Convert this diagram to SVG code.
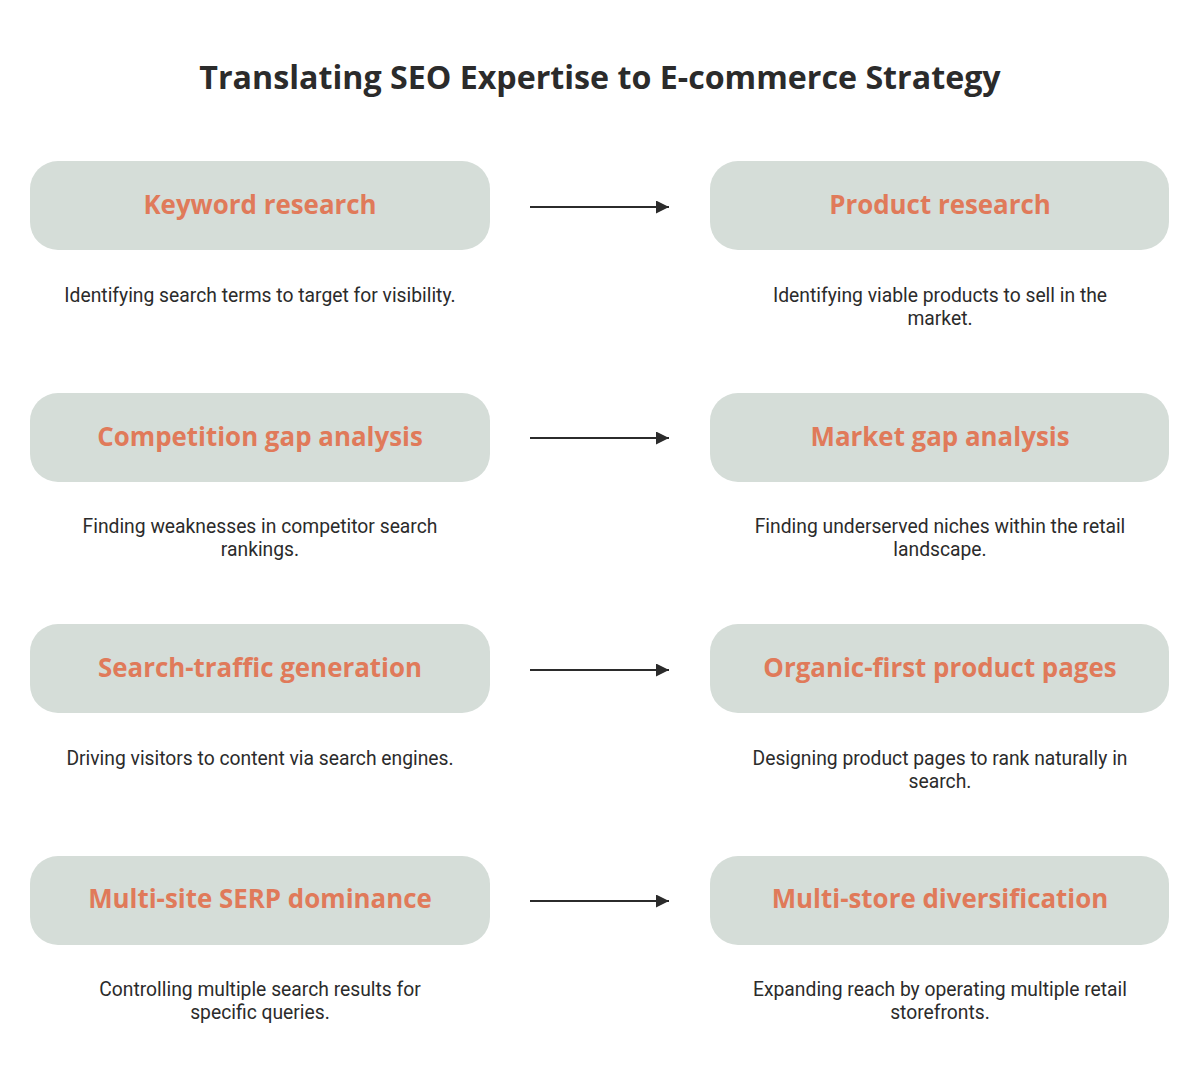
<svg xmlns="http://www.w3.org/2000/svg" width="1200" height="1085" viewBox="0 0 1200 1085">
<defs>
<style>
.title{font-family:"Open Sans","Noto Sans",sans-serif;font-weight:700;font-size:32.2px;fill:#2b2b2b;text-anchor:middle}
.box{fill:#d5ddd8}
.lbl{font-family:"Open Sans","Noto Sans",sans-serif;font-weight:700;font-size:25.9px;fill:#e07a5a;text-anchor:middle}
.desc{font-family:Roboto,"Liberation Sans",sans-serif;font-size:19.3px;fill:#2b2b2b;text-anchor:middle}
.conn{stroke:#2b2b2b;stroke-width:2;fill:none}
</style>
<marker id="ah" viewBox="0 0 10 10" refX="10" refY="5" markerWidth="6.5" markerHeight="6.5" markerUnits="strokeWidth" orient="auto">
<path d="M0,0 L10,5 L0,10 z" fill="#2b2b2b"/>
</marker>
</defs>
<rect width="1200" height="1085" fill="#ffffff"/>
<text class="title" x="600" y="89">Translating SEO Expertise to E-commerce Strategy</text>

<g id="n1"><rect class="box" x="30" y="161" width="460" height="89" rx="28"/><text class="lbl" x="260" y="214">Keyword research</text><text class="desc" x="260" y="302">Identifying search terms to target for visibility.</text></g>
<g id="n2"><rect class="box" x="710" y="161" width="459" height="89" rx="28"/><text class="lbl" x="940" y="214">Product research</text><text class="desc" x="940" y="302">Identifying viable products to sell in the</text><text class="desc" x="940" y="325">market.</text></g>

<g id="n3"><rect class="box" x="30" y="393" width="460" height="89" rx="28"/><text class="lbl" x="260" y="446">Competition gap analysis</text><text class="desc" x="260" y="533">Finding weaknesses in competitor search</text><text class="desc" x="260" y="556">rankings.</text></g>
<g id="n4"><rect class="box" x="710" y="393" width="459" height="89" rx="28"/><text class="lbl" x="940" y="446">Market gap analysis</text><text class="desc" x="940" y="533">Finding underserved niches within the retail</text><text class="desc" x="940" y="556">landscape.</text></g>

<g id="n5"><rect class="box" x="30" y="624" width="460" height="89" rx="28"/><text class="lbl" x="260" y="677">Search-traffic generation</text><text class="desc" x="260" y="765">Driving visitors to content via search engines.</text></g>
<g id="n6"><rect class="box" x="710" y="624" width="459" height="89" rx="28"/><text class="lbl" x="940" y="677">Organic-first product pages</text><text class="desc" x="940" y="765">Designing product pages to rank naturally in</text><text class="desc" x="940" y="788">search.</text></g>

<g id="n7"><rect class="box" x="30" y="856" width="460" height="89" rx="28"/><text class="lbl" x="260" y="908">Multi-site SERP dominance</text><text class="desc" x="260" y="996">Controlling multiple search results for</text><text class="desc" x="260" y="1019">specific queries.</text></g>
<g id="n8"><rect class="box" x="710" y="856" width="459" height="89" rx="28"/><text class="lbl" x="940" y="908">Multi-store diversification</text><text class="desc" x="940" y="996">Expanding reach by operating multiple retail</text><text class="desc" x="940" y="1019">storefronts.</text></g>

<g id="connectors">
<line class="conn" x1="530" y1="207" x2="669" y2="207" marker-end="url(#ah)"/>
<line class="conn" x1="530" y1="438" x2="669" y2="438" marker-end="url(#ah)"/>
<line class="conn" x1="530" y1="670" x2="669" y2="670" marker-end="url(#ah)"/>
<line class="conn" x1="530" y1="901" x2="669" y2="901" marker-end="url(#ah)"/>
</g>
</svg>
